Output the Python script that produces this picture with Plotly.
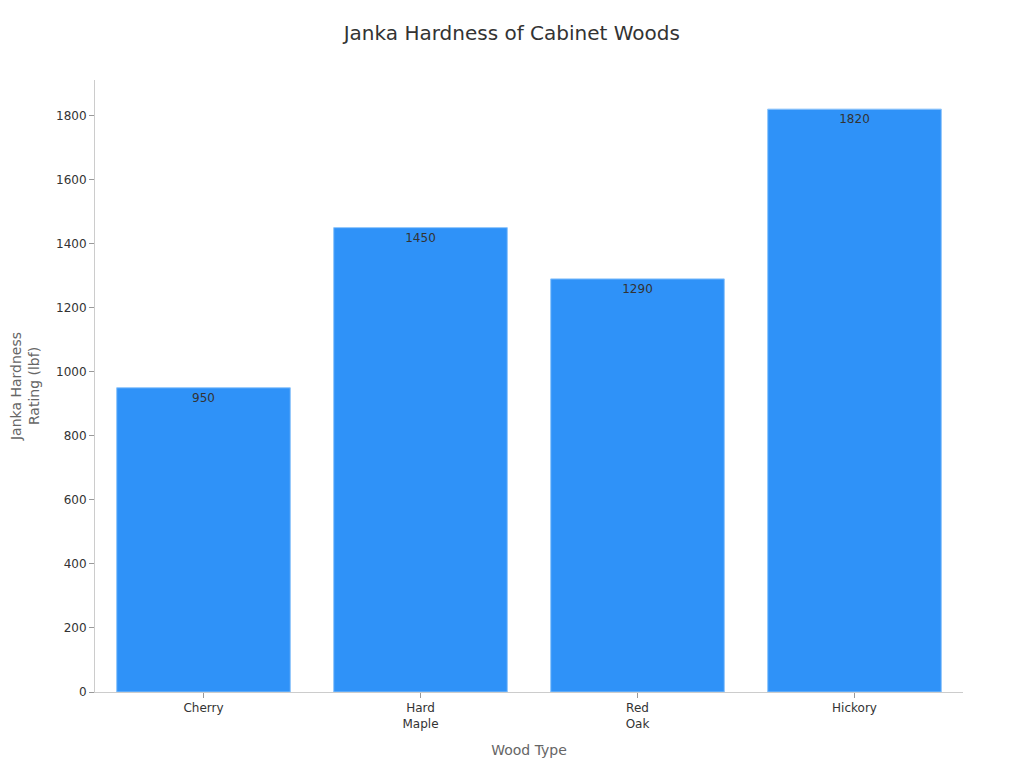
import plotly.graph_objects as go

woods = ["Cherry", "Hard<br>Maple", "Red<br>Oak", "Hickory"]
hardness = [950, 1450, 1290, 1820]

fig = go.Figure(
    go.Bar(
        x=woods,
        y=hardness,
        text=hardness,
        textposition="inside",
        insidetextanchor="end",
        textfont=dict(color="#333333", size=12),
        marker=dict(color="#2f92f8", line=dict(color="#8cc4fb", width=1)),
    )
)

# page body adds an 8px offset, margins below account for it
fig.update_layout(
    title=dict(text="Janka Hardness of Cabinet Woods", x=0.492, y=0.967, yanchor="middle",
               font=dict(size=20, color="#333333")),
    font=dict(family="DejaVu Sans", color="#333333"),
    width=1024, height=768,
    margin=dict(l=87, r=69, t=72, b=84),
    plot_bgcolor="white", paper_bgcolor="white",
    bargap=0.2,
    showlegend=False,
)
fig.update_xaxes(
    title=dict(text="Wood Type", font=dict(size=14, color="#666666")),
    showline=True, linecolor="#cccccc", ticks="outside", tickcolor="#999999",
    ticklen=5, tickfont=dict(size=12), showgrid=False, automargin=False,
)
fig.update_yaxes(
    title=dict(text="Janka Hardness<br>Rating (lbf)", font=dict(size=14, color="#666666"),
               standoff=17),
    range=[0, 1911], dtick=200,
    showline=True, linecolor="#cccccc", ticks="outside", tickcolor="#999999",
    ticklen=5, tickfont=dict(size=12), showgrid=False, zeroline=False, automargin=False,
)

fig.write_html("out.html")
